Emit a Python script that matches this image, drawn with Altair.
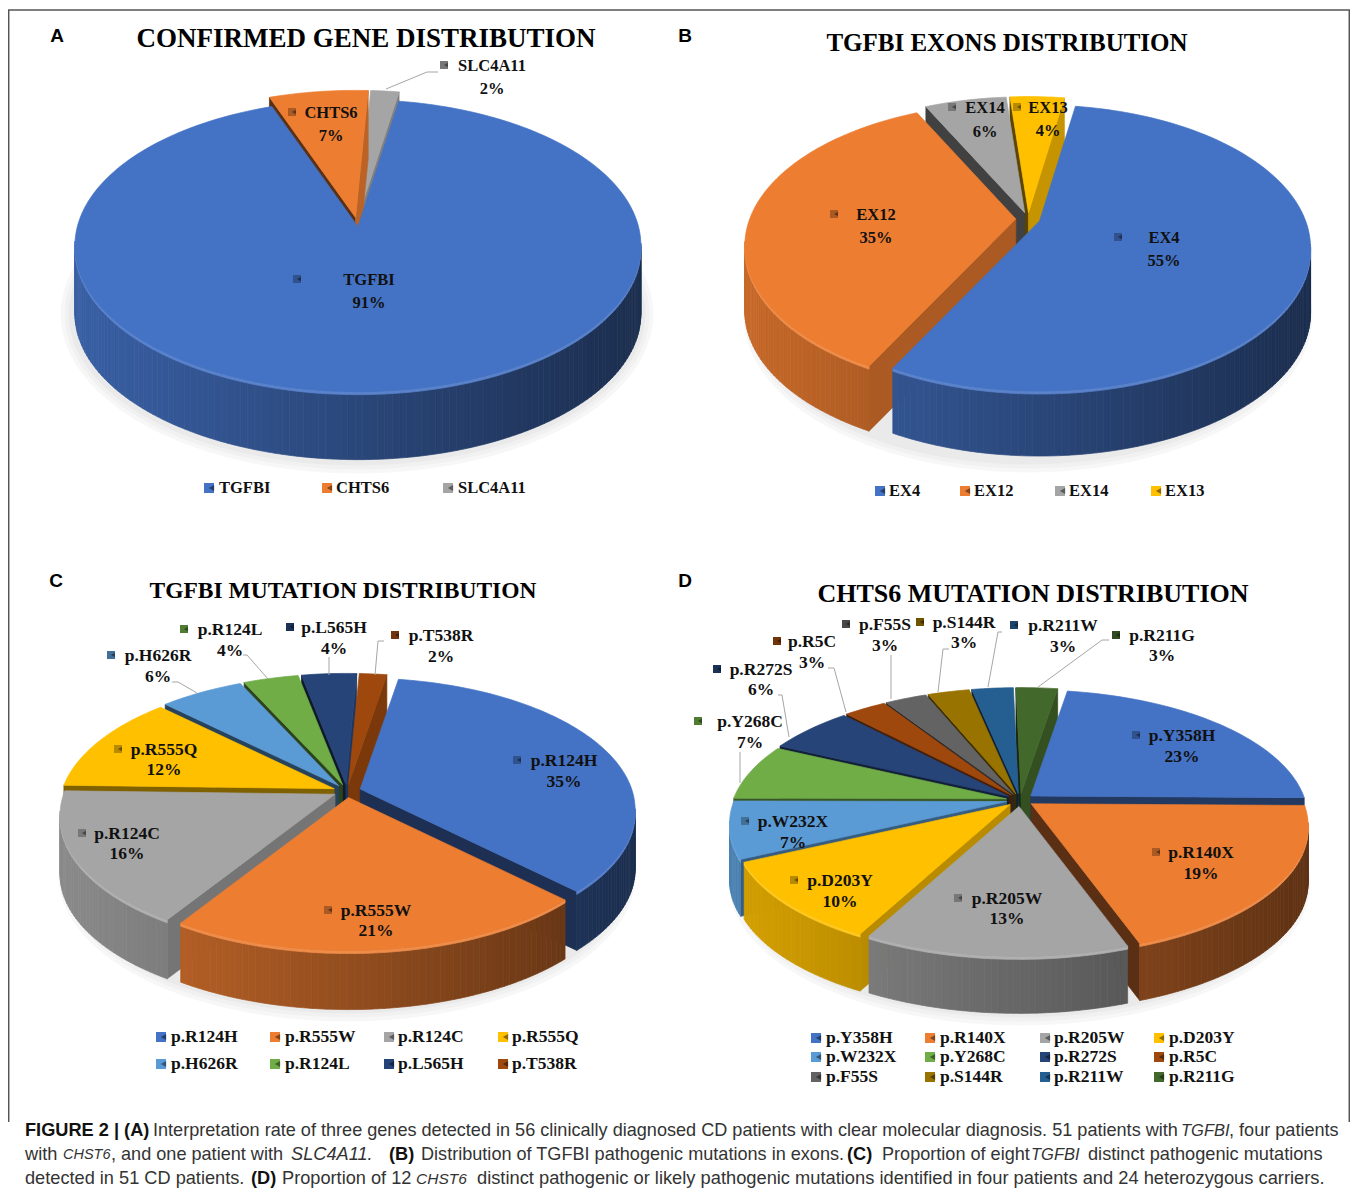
import math
import altair as alt

# ---------- values ----------
names_a = ["TGFBI", "CHTS6", "SLC4A11"]
values_a = [91, 7, 2]
names_b = ["EX4", "EX12", "EX14", "EX13"]
values_b = [55, 35, 6, 4]
names_c = ["p.R124H", "p.R555W", "p.R124C", "p.R555Q", "p.H626R", "p.R124L", "p.L565H", "p.T538R"]
values_c = [35, 21, 16, 12, 6, 4, 4, 2]
names_d = ["p.Y358H", "p.R140X", "p.R205W", "p.D203Y", "p.W232X", "p.Y268C", "p.R272S", "p.R5C",
           "p.F55S", "p.S144R", "p.R211W", "p.R211G"]
values_d = [23, 19, 13, 10, 7, 7, 6, 3, 3, 3, 3, 3]
palette = ["#4472C4", "#ED7D31", "#A5A5A5", "#FFC000", "#5B9BD5", "#70AD47", "#264478", "#9E480E",
           "#636363", "#997300", "#255E91", "#43682B"]
titles = ["CONFIRMED GENE DISTRIBUTION", "TGFBI EXONS DISTRIBUTION",
          "TGFBI MUTATION DISTRIBUTION", "CHTS6 MUTATION DISTRIBUTION"]
letters = ["A", "B", "C", "D"]

# ---------- layout, kept apart from the values ----------
W, H, M = 1342, 1180, 8
pie_layout = {
    "A": dict(cx=357, cy=241, rx=283, ry=146, d=68, apex=-19, e=0.032, start=10.4),
    "B": dict(cx=1028, cy=246, rx=271, ry=143, d=65, apex=-27, e=0.045, start=9.5),
    "C": dict(cx=347, cy=812, rx=275, ry=132, d=59, apex=-21, e=0.050, start=10.0),
    "D": dict(cx=1020, cy=822, rx=277, ry=128, d=57, apex=-22, e=0.050, start=9.5),
}
title_layout = [(366, 39, 27), (1007, 43, 25), (343, 591, 23.5), (1033, 594, 26)]
letter_layout = [(57, 36), (685, 36), (56, 581), (685, 581)]
label_layout = {
    "A": [(369, 280, 303, 297), (331, 113, 136, 292), (492, 66, 89, 444)],
    "B": [(1164, 238, 261, 1118), (876, 215, 238, 834), (985, 108, 132, 952), (1048, 108, 131, 1017)],
    "C": [(564, 761, 782, 517), (376, 911, 931, 328), (127, 834, 854, 82), (164, 750, 770, 118),
          (158, 656, 677, 111), (230, 630, 651, 184), (334, 628, 649, 290), (441, 636, 657, 395)],
    "D": [(1182, 736, 757, 1136), (1201, 853, 874, 1156), (1007, 899, 919, 958), (840, 881, 902, 794),
          (793, 822, 843, 745), (750, 722, 743, 698), (761, 670, 690, 717), (812, 642, 663, 777),
          (885, 625, 646, 846), (964, 623, 643, 920), (1063, 626, 647, 1014), (1162, 636, 656, 1116)],
}
label_size = {"A": 16.5, "B": 16.5, "C": 17.5, "D": 17.5}
legend_layout = {
    "A": dict(xs=[209, 327, 448], ys=[488], text=[219, 336, 458], per=3),
    "B": dict(xs=[880, 965, 1060, 1156], ys=[491], text=[889, 974, 1069, 1165], per=4),
    "C": dict(xs=[161, 275, 389, 503], ys=[1037, 1064], text=[171, 285, 398, 512], per=4),
    "D": dict(xs=[816, 930, 1045, 1159], ys=[1038, 1057, 1077], text=[826, 940, 1054, 1169], per=4),
}
leaders = [
    [(386, 89), (427, 72), (438, 72)],
    [(375, 675), (378, 641), (384, 641)], [(329, 675), (329, 657)],
    [(268, 679), (247, 655), (243, 655)], [(197, 693), (178, 682), (172, 682)],
    [(1038, 687), (1102, 640), (1109, 640)], [(988, 687), (998, 632), (1002, 632)],
    [(938, 692), (943, 649), (949, 649)], [(891, 699), (891, 655)],
    [(846, 712), (834, 668), (828, 668)], [(789, 737), (782, 695), (778, 695)],
    [(740, 783), (740, 752)],
]
Y1, Y2, Y3 = 1131, 1155, 1179
caption = [
    (25, Y1, "bold", "normal", "FIGURE 2 | (A)", 18.2),
    (153, Y1, "normal", "normal", "Interpretation rate of three genes detected in 56 clinically diagnosed CD patients with clear molecular diagnosis. 51 patients with", 18.1),
    (1181, Y1, "normal", "italic", "TGFBI", 16.5),
    (1229, Y1, "normal", "normal", ", four patients", 18.1),
    (25, Y2, "normal", "normal", "with", 18.2),
    (63, Y2, "normal", "italic", "CHST6", 14.5),
    (111, Y2, "normal", "normal", ", and one patient with", 18.1),
    (291, Y2, "normal", "italic", "SLC4A11.", 18.2),
    (389, Y2, "bold", "normal", "(B)", 18.2),
    (421, Y2, "normal", "normal", "Distribution of TGFBI pathogenic mutations in exons.", 18.1),
    (847, Y2, "bold", "normal", "(C)", 18.2),
    (882, Y2, "normal", "normal", "Proportion of eight", 18.1),
    (1031, Y2, "normal", "italic", "TGFBI", 16.5),
    (1088, Y2, "normal", "normal", "distinct pathogenic mutations", 18.2),
    (25, Y3, "normal", "normal", "detected in 51 CD patients.", 18.2),
    (251, Y3, "bold", "normal", "(D)", 18.2),
    (282, Y3, "normal", "normal", "Proportion of 12", 18.2),
    (416, Y3, "normal", "italic", "CHST6", 15.5),
    (477, Y3, "normal", "normal", "distinct pathogenic or likely pathogenic mutations identified in four patients and 24 heterozygous carriers.", 18.3),
]
frame = [[(8.7, 1122), (8.7, 10), (1349.3, 10), (1349.3, 1122)]]
WARP = 0.2
SERIF = "Liberation Serif"
SANS = "Liberation Sans"


# ---------- helpers ----------
def shade(hex_color, f):
    r, g, b = [int(hex_color[i:i + 2], 16) for i in (1, 3, 5)]
    if f <= 1:
        c = [v * f for v in (r, g, b)]
    else:
        c = [v + (255 - v) * (f - 1) for v in (r, g, b)]
    return "#%02x%02x%02x" % tuple(int(max(0, min(255, round(v)))) for v in c)


def poly(pts, fill):
    ring = [[round(x, 2), round(y, 2)] for x, y in pts]
    ring.append(ring[0])
    return {"type": "Feature", "geometry": {"type": "Polygon", "coordinates": [ring]},
            "properties": {"fill": fill}}


def phi(t):
    return t - WARP * math.sin(t)


def normal_factor(az):
    az = az % 360
    table = [(90, .8), (118, .72), (180, .5), (250, .38), (270, .35)]
    for (a0, f0), (a1, f1) in zip(table, table[1:]):
        if a0 <= az <= a1:
            return f0 + (f1 - f0) * (az - a0) / (a1 - a0)
    return .5


def build_pie(key, values):
    L = pie_layout[key]
    cx, cy, rx, ry, d = L["cx"], L["cy"], L["rx"], L["ry"], L["d"]
    feats = []
    for grow, col in ((13, "#f7f7f7"), (9, "#f1f1f1"), (5, "#eaeaea")):
        pts = []
        for i in range(120):
            a = 2 * math.pi * i / 120
            pts.append((cx + (rx + grow) * math.sin(a),
                        cy + d + 5 - (ry + grow) * math.cos(a)))
        feats.append(poly(pts, col))
    wedges = []
    th = math.radians(L["start"])
    for i, v in enumerate(values):
        span = 2 * math.pi * v / sum(values)
        wedges.append((i, th, th + span))
        th += span
    wedges.sort(key=lambda w: -math.cos((w[1] + w[2]) / 2))
    for i, t0, t1 in wedges:
        base = palette[i]
        m = (t0 + t1) / 2
        ox = L["e"] * rx * math.sin(m)
        oy = -L["e"] * ry * math.cos(m)
        apex = (cx + ox, cy + L["apex"] + oy)

        def rim(t):
            p = phi(t)
            return (cx + ox + rx * math.sin(p), cy + oy - ry * math.cos(p))

        # radial cut walls: only those that face the viewer
        for t, az in ((t0, math.degrees(t0) - 90), (t1, math.degrees(t1) + 90)):
            if math.cos(math.radians(az)) >= 0:
                continue
            r = rim(t)
            feats.append(poly([apex, r, (r[0], r[1] + d), (apex[0], apex[1] + d)],
                              shade(base, normal_factor(az))))
        # curved wall as narrow strips
        n = max(2, int((t1 - t0) / math.radians(1.25)))
        for k in range(n):
            a = t0 + (t1 - t0) * k / n
            b = t0 + (t1 - t0) * (k + 1) / n
            if math.cos(phi((a + b) / 2)) >= 0.02:
                continue
            p, q = rim(a), rim(b)
            s = math.sin(phi((a + b) / 2))
            f = 0.84 - 0.44 * (s + 1) / 2
            feats.append(poly([p, q, (q[0], q[1] + d), (p[0], p[1] + d)], shade(base, f)))
        # bevel highlight along the front rim
        for k in range(n):
            a = t0 + (t1 - t0) * k / n
            b = t0 + (t1 - t0) * (k + 1) / n
            if math.cos(phi((a + b) / 2)) >= 0.02:
                continue
            p, q = rim(a), rim(b)
            feats.append(poly([p, q, (q[0], q[1] + 3), (p[0], p[1] + 3)], shade(base, 1.12)))
        # top face
        n = max(3, int((t1 - t0) / math.radians(1.5)))
        feats.append(poly([apex] + [rim(t0 + (t1 - t0) * k / n) for k in range(n + 1)], base))
    return feats


# ---------- tables ----------
series = {"A": (names_a, values_a), "B": (names_b, values_b),
          "C": (names_c, values_c), "D": (names_d, values_d)}
shapes, texts, squares, tris, lines = [], [], [], [], []


def add_text(x, y, t, size, font=SERIF, weight="bold", style="normal", align="center", color="#111111"):
    texts.append(dict(x=x, y=y, t=t, size=size, font=font, weight=weight, style=style,
                      align=align, color=color))


for key, (nm, val) in series.items():
    shapes += build_pie(key, val)
    for i, (name, v) in enumerate(zip(nm, val)):
        lx, ly, py, ix = label_layout[key][i]
        add_text(lx, ly, name, label_size[key])
        add_text(lx, py, f"{v}%", label_size[key])
        squares.append(dict(x=ix, y=ly - 1, fill=shade(palette[i], 0.72), size=64))
        tris.append(dict(x=ix + 2, y=ly - 1, fill=shade(palette[i], 0.42), size=22))
        g = legend_layout[key]
        col = i % g["per"]
        row = i // g["per"]
        add_text(g["text"][col], g["ys"][row], name, label_size[key], align="left")
        squares.append(dict(x=g["xs"][col], y=g["ys"][row], fill=palette[i], size=100))
        tris.append(dict(x=g["xs"][col] + 2.5, y=g["ys"][row], fill=shade(palette[i], 0.55), size=36))

for t, (x, y, s) in zip(titles, title_layout):
    add_text(x, y, t, s, color="#000000")
for t, (x, y) in zip(letters, letter_layout):
    add_text(x, y, t, 19, font=SANS, color="#000000")
for x, y, w, st, t, size in caption:
    add_text(x, y, t, size, font=SANS, weight=w, style=st, align="left",
             color="#111111" if w == "bold" else "#333333")

for g, path in enumerate(leaders):
    for o, (x, y) in enumerate(path):
        lines.append(dict(x=x, y=y, g=g, o=o))
frame_rows = []
for g, path in enumerate(frame):
    for o, (x, y) in enumerate(path):
        frame_rows.append(dict(x=x, y=y, g=g, o=o))

# ---------- chart ----------
xs = alt.Scale(domain=[M, M + W], range=[0, W], nice=False, zero=False)
ys = alt.Scale(domain=[M, M + H], range=[0, H], nice=False, zero=False)
X = alt.X("x:Q", scale=xs, axis=None)
Y = alt.Y("y:Q", scale=ys, axis=None)

pies = (
    alt.Chart(alt.Data(values=shapes))
    .mark_geoshape(strokeWidth=0.7)
    .encode(fill=alt.Fill("properties.fill:N", scale=None),
            stroke=alt.Stroke("properties.fill:N", scale=None))
    .project(type="identity", scale=1, translate=[-M, -M])
)
frame_ch = alt.Chart(alt.Data(values=frame_rows)).mark_line(color="#555555", strokeWidth=1.5).encode(
    x=X, y=Y, detail="g:N", order="o:Q")
leader_ch = alt.Chart(alt.Data(values=lines)).mark_line(color="#a6a6a6", strokeWidth=1).encode(
    x=X, y=Y, detail="g:N", order="o:Q")
sq_ch = alt.Chart(alt.Data(values=squares)).mark_point(shape="square", filled=True, opacity=1).encode(
    x=X, y=Y, fill=alt.Fill("fill:N", scale=None), size=alt.Size("size:Q", scale=None))
tri_ch = alt.Chart(alt.Data(values=tris)).mark_point(shape="triangle-left", filled=True, opacity=1).encode(
    x=X, y=Y, fill=alt.Fill("fill:N", scale=None), size=alt.Size("size:Q", scale=None))

text_layers = []
groups = {}
for r in texts:
    groups.setdefault((r["font"], r["weight"], r["style"], r["align"]), []).append(r)
for (font, weight, style, align), rows in groups.items():
    text_layers.append(
        alt.Chart(alt.Data(values=rows))
        .mark_text(font=font, fontWeight=weight, fontStyle=style, align=align, baseline="middle")
        .encode(x=X, y=Y, text="t:N", size=alt.Size("size:Q", scale=None),
                color=alt.Color("color:N", scale=None))
    )

chart = (
    alt.layer(pies, frame_ch, leader_ch, sq_ch, tri_ch, *text_layers)
    .properties(width=W, height=H, padding=0, background="white",
                autosize=alt.AutoSizeParams(type="none"))
    .configure_view(stroke=None)
)

chart.save("out.html", embed_options={"renderer": "svg", "actions": False})
